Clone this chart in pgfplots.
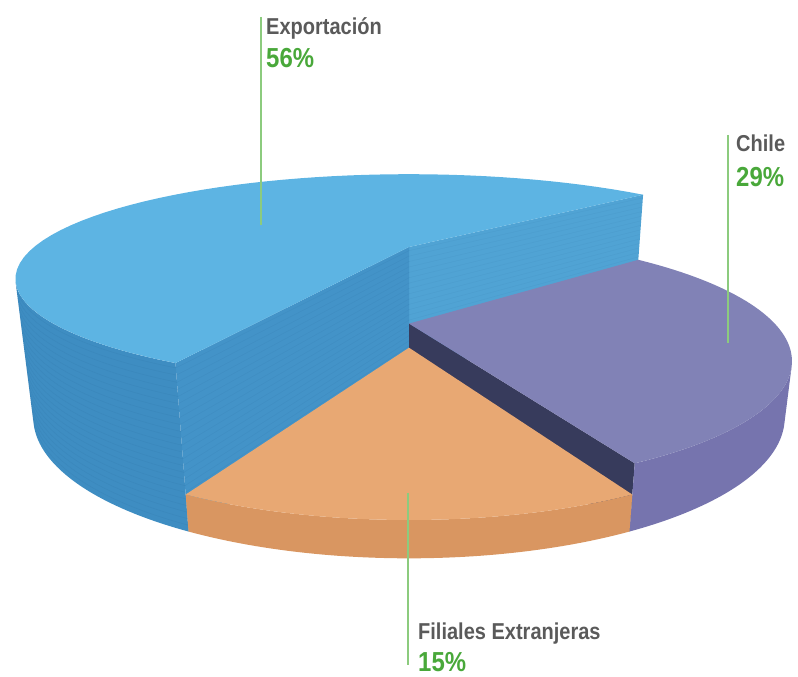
\documentclass[border=0pt]{standalone}
\usepackage{pgfplots}
\pgfplotsset{compat=1.18}
\usepackage{pgfplotstable}
\usepackage{fontspec}
\newfontfamily\cond{Liberation Sans}[FakeStretch=0.87]

\definecolor{btop}{RGB}{93,180,227}
\definecolor{bwall}{RGB}{62,141,194}
\definecolor{bwallL}{RGB}{67,147,200}
\definecolor{bwallR}{RGB}{80,163,212}
\definecolor{bstripe}{RGB}{35,95,145}
\definecolor{ptop}{RGB}{129,130,182}
\definecolor{pwall}{RGB}{118,116,174}
\definecolor{pdark}{RGB}{55,59,92}
\definecolor{otop}{RGB}{232,168,115}
\definecolor{owall}{RGB}{217,150,97}
\definecolor{lblgray}{RGB}{90,90,90}
\definecolor{lblgreen}{RGB}{73,168,58}
\definecolor{linegreen}{RGB}{140,203,126}

% value (%), slice height (radius units)
\pgfplotstableread{
label value height
Filiales 15 0.085
Chile 29 0.155
Exportacion 56 0.37
}\piedata

% projection constants (perspective camera)
\def\Dc{3.2}
\def\cph{0.93358}
\def\sph{0.35837}
\def\fc{1150}
\def\Xo{409}
\def\Yo{300.5}

\newcommand\topface[4]{%
 \addplot[fill=#1, draw=none, domain=-1:60, samples=62, variable=\t]
 ({(\t<-0.5) ? PX(0,0,#4) : PX(cos(#2+\t*(#3-#2)/60), sin(#2+\t*(#3-#2)/60), #4)},
  {(\t<-0.5) ? PY(0,0,#4) : PY(cos(#2+\t*(#3-#2)/60), sin(#2+\t*(#3-#2)/60), #4)});
}
\newcommand\wall[4]{%
 \addplot[fill=#1, draw=none, domain=0:121, samples=122, variable=\t]
 ({PX(cos(angW(\t,#2,#3)), sin(angW(\t,#2,#3)), zW(\t,#4))},
  {PY(cos(angW(\t,#2,#3)), sin(angW(\t,#2,#3)), zW(\t,#4))});
}
\newcommand\radial[3]{%
 \addplot[fill=#1, draw=none, domain=0:3, samples=4, variable=\t]
 ({PX(rq(\t)*cos(#2), rq(\t)*sin(#2), zq(\t,#3))},
  {PY(rq(\t)*cos(#2), rq(\t)*sin(#2), zq(\t,#3))});
}

\begin{document}
\begin{tikzpicture}
\pgfplotstablegetelem{0}{value}\of\piedata \edef\vO{\pgfplotsretval}
\pgfplotstablegetelem{1}{value}\of\piedata \edef\vP{\pgfplotsretval}
\pgfplotstablegetelem{2}{value}\of\piedata \edef\vB{\pgfplotsretval}
\pgfplotstablegetelem{0}{height}\of\piedata \edef\hO{\pgfplotsretval}
\pgfplotstablegetelem{1}{height}\of\piedata \edef\hP{\pgfplotsretval}
\pgfplotstablegetelem{2}{height}\of\piedata \edef\hB{\pgfplotsretval}
\pgfmathsetmacro\aO{270-\vO*3.6/2}
\pgfmathsetmacro\bO{\aO+\vO*3.6}
\pgfmathsetmacro\aP{\bO}
\pgfmathsetmacro\bP{\aP+\vP*3.6}
\pgfmathsetmacro\aB{\bP}
\pgfmathsetmacro\bB{\aB+\vB*3.6}
\pgfmathsetmacro\sil{asin(1/(\Dc*\cph))}
\pgfmathsetmacro\bWs{540+\sil}
\pgfmathsetmacro\pWe{min(\bP,360-\sil)}
\begin{axis}[
  at={(0,0)}, anchor=south west,
  width=798pt, height=677pt, scale only axis,
  xmin=0, xmax=798, ymin=0, ymax=677,
  hide axis,
  declare function={
    PX(\ma,\mb,\mc)=\Xo+\fc*\ma/(\Dc+\mb*\cph-\mc*\sph);
    PY(\ma,\mb,\mc)=\Yo+\fc*(\mb*\sph+\mc*\cph)/(\Dc+\mb*\cph-\mc*\sph);
    angW(\ma,\mb,\mc)=(\ma<60.5) ? (\mb+\ma*(\mc-\mb)/60) : (\mc-(\ma-61)*(\mc-\mb)/60);
    zW(\ma,\mb)=(\ma<60.5) ? \mb : 0;
    rq(\ma)=(abs(\ma-1.5)<1) ? 1 : 0;
    zq(\ma,\mb)=(\ma<1.5) ? \mb : 0;
  },
]
% Exportacion (blue)
\radial{bwallR}{\aB}{\hB}
\radial{bwallL}{\bB}{\hB}
\wall{bwall}{\bWs}{\bB}{\hB}
% stacked-sheet stripes on the blue walls
\pgfplotsinvokeforeach{0.015,0.03,...,0.36}{
  \addplot[bstripe, opacity=0.13, line width=0.45pt, domain=\bWs:\bB, samples=40]
    ({PX(cos(x),sin(x),#1)},{PY(cos(x),sin(x),#1)});
  \addplot[bstripe, opacity=0.11, line width=0.45pt, domain=0:1, samples=2]
    ({PX(x*cos(\bB),x*sin(\bB),#1)},{PY(x*cos(\bB),x*sin(\bB),#1)});
  \addplot[bstripe, opacity=0.09, line width=0.45pt, domain=0:1, samples=2]
    ({PX(x*cos(\aB),x*sin(\aB),#1)},{PY(x*cos(\aB),x*sin(\aB),#1)});
}
\topface{btop}{\aB}{\bB}{\hB}
% Chile (purple)
\radial{pdark}{\aP}{\hP}
\wall{pwall}{\aP}{\pWe}{\hP}
\topface{ptop}{\aP}{\bP}{\hP}
% Filiales (orange)
\wall{owall}{\aO}{\bO}{\hO}
\topface{otop}{\aO}{\bO}{\hO}

% leader lines and labels
\draw[linegreen, line width=1.1pt] (axis cs:261,660) -- (axis cs:261,452);
\draw[linegreen, line width=1.1pt] (axis cs:728,542) -- (axis cs:728,334);
\draw[linegreen, line width=1.1pt] (axis cs:408,184) -- (axis cs:408,12);
\node[anchor=base west, inner sep=0pt, text=lblgray, font=\cond\bfseries\fontsize{23}{26}\selectfont] at (axis cs:266,642) {Exportación};
\node[anchor=base west, inner sep=0pt, text=lblgreen, font=\cond\bfseries\fontsize{27.5}{31}\selectfont] at (axis cs:266,609) {56\%};
\node[anchor=base west, inner sep=0pt, text=lblgray, font=\cond\bfseries\fontsize{23}{26}\selectfont] at (axis cs:736,525) {Chile};
\node[anchor=base west, inner sep=0pt, text=lblgreen, font=\cond\bfseries\fontsize{27.5}{31}\selectfont] at (axis cs:736,490) {29\%};
\node[anchor=base west, inner sep=0pt, text=lblgray, font=\cond\bfseries\fontsize{23}{26}\selectfont] at (axis cs:418,37) {Filiales Extranjeras};
\node[anchor=base west, inner sep=0pt, text=lblgreen, font=\cond\bfseries\fontsize{27.5}{31}\selectfont] at (axis cs:418,5) {15\%};
\end{axis}
\pgfresetboundingbox
\path (0,0) rectangle (798pt,677pt);
\end{tikzpicture}
\end{document}
